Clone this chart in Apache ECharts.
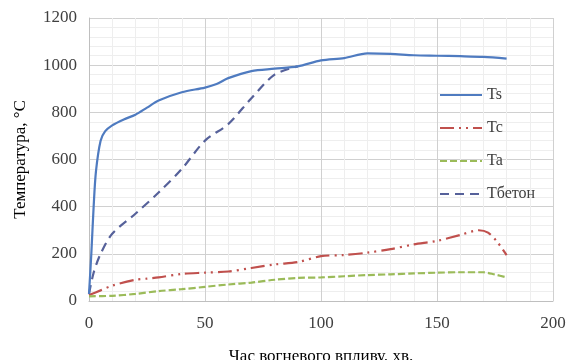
<!DOCTYPE html>
<html>
<head>
<meta charset="utf-8">
<script src="https://cdn.jsdelivr.net/npm/echarts@6/dist/echarts.min.js"></script>
<style>
  html, body { margin: 0; padding: 0; background: #fff; }
  #chart { width: 569px; height: 360px; }
</style>
</head>
<body>
<div id="chart"></div>
<script>
// time, min
const tTs = [0, 1, 2, 3, 5, 7, 10, 15, 20, 25, 30, 40, 50, 55, 60, 70, 80, 90, 100, 110, 120, 130, 140, 150, 160, 170, 180];
const Ts  = [30, 200, 400, 550, 680, 720, 745, 770, 790, 820, 850, 885, 905, 920, 945, 975, 985, 995, 1020, 1030, 1050, 1048, 1042, 1040, 1038, 1035, 1028];

const tTb = [0, 2, 5, 10, 20, 30, 40, 50, 60, 70, 80, 90];
const Tbeton = [30, 120, 200, 285, 370, 460, 560, 680, 750, 860, 960, 995];

const tTc = [0, 5, 10, 20, 25, 30, 40, 50, 60, 70, 80, 90, 100, 110, 120, 130, 140, 150, 160, 168, 172, 176, 180];
const Tc  = [25, 45, 65, 90, 95, 100, 115, 120, 125, 140, 155, 165, 190, 195, 205, 220, 240, 255, 280, 300, 290, 250, 195];

const tTa = [0, 10, 20, 30, 40, 50, 60, 70, 80, 90, 100, 110, 120, 130, 140, 150, 160, 170, 175, 180];
const Ta  = [20, 22, 30, 42, 50, 60, 70, 78, 90, 98, 100, 105, 110, 113, 117, 120, 122, 122, 112, 100];

const names = ['Ts', 'Tc', 'Ta', 'Tбетон'];

function pairs(xs, ys) { return xs.map((x, i) => [x, ys[i]]); }

const font = 'Liberation Serif';
const chart = echarts.init(document.getElementById('chart'));
chart.setOption({
  animation: false,
  grid: { left: 89, right: 16, top: 18, bottom: 59, outerBoundsMode: 'none' },
  legend: {
    orient: 'vertical',
    left: 434, top: 82,
    itemGap: 17,
    itemWidth: 42, itemHeight: 14,
    itemStyle: { opacity: 0 },
    data: names,
    textStyle: { fontFamily: font, fontSize: 16, color: '#404040' }
  },
  xAxis: {
    type: 'value', min: 0, max: 200, interval: 50,
    name: 'Час вогневого впливу, хв.',
    nameLocation: 'middle', nameGap: 47,
    nameTextStyle: { fontFamily: font, fontSize: 17, color: '#000' },
    axisLine: { lineStyle: { color: '#bfbfbf' } },
    axisTick: { show: false },
    axisLabel: { fontFamily: font, fontSize: 17, color: '#404040', margin: 14 },
    splitLine: { lineStyle: { color: '#d0d0d0' } },
    minorTick: { show: false, splitNumber: 5 },
    minorSplitLine: { show: true, lineStyle: { color: '#eeeeee' } }
  },
  yAxis: {
    type: 'value', min: 0, max: 1200, interval: 200,
    name: 'Температура, °С',
    nameLocation: 'middle', nameGap: 60,
    nameTextStyle: { fontFamily: font, fontSize: 17, color: '#000' },
    axisLine: { show: true, lineStyle: { color: '#bfbfbf' } },
    axisTick: { show: false },
    axisLabel: { fontFamily: font, fontSize: 17, color: '#404040', margin: 12, formatter: v => String(v) },
    splitLine: { lineStyle: { color: '#d0d0d0' } },
    minorTick: { show: false, splitNumber: 5 },
    minorSplitLine: { show: true, lineStyle: { color: '#eeeeee' } }
  },
  series: [
    {
      name: 'Ts', type: 'line', smooth: 0.3, symbol: 'none', z: 3,
      data: pairs(tTs, Ts),
      lineStyle: { color: '#4f7bc0', width: 2.2 },
      itemStyle: { color: '#4f7bc0' }
    },
    {
      name: 'Tc', type: 'line', smooth: 0.3, symbol: 'none', z: 2,
      data: pairs(tTc, Tc),
      lineStyle: { color: '#c0504d', width: 2.2, type: [14, 5, 2, 5, 2, 5] },
      itemStyle: { color: '#c0504d' }
    },
    {
      name: 'Ta', type: 'line', smooth: 0.3, symbol: 'none', z: 2,
      data: pairs(tTa, Ta),
      lineStyle: { color: '#9bbb59', width: 2.2, type: [7, 3] },
      itemStyle: { color: '#9bbb59' }
    },
    {
      name: 'Tбетон', type: 'line', smooth: 0.3, symbol: 'none', z: 2,
      data: pairs(tTb, Tbeton),
      lineStyle: { color: '#56619a', width: 2.2, type: [9, 6] },
      itemStyle: { color: '#56619a' }
    }
  ]
});
</script>
</body>
</html>
